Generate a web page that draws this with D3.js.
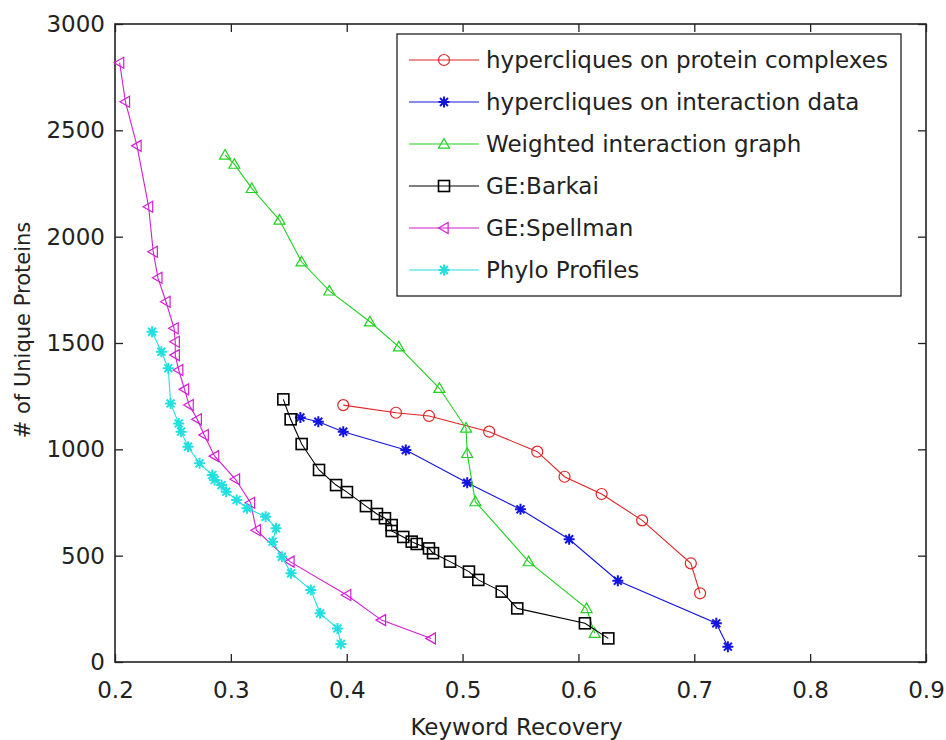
<!DOCTYPE html>
<html>
<head>
<meta charset="utf-8">
<script src="https://cdn.jsdelivr.net/npm/d3@7"></script>
<style>
body { margin: 0; background: #fff; }
svg { display: block; }
text { font-family: "DejaVu Sans", sans-serif; fill: #222; }
</style>
</head>
<body>
<svg id="chart" width="946" height="740"></svg>
<script>
const seriesNames = ["hypercliques on protein complexes", "hypercliques on interaction data", "Weighted interaction graph", "GE:Barkai", "GE:Spellman", "Phylo Profiles"];
const seriesColors = ["#e02424", "#1414e0", "#22d022", "#000000", "#d020d0", "#20e0e0"];
const seriesMarkers = ["circle", "asterisk", "triUp", "square", "triLeft", "asterisk"];

const redX = [0.397, 0.4425, 0.471, 0.523, 0.5645, 0.588, 0.620, 0.655, 0.697, 0.705];
const redY = [1208, 1172, 1157, 1083, 989, 871, 790, 666, 464, 323];

const blueX = [0.360, 0.3755, 0.397, 0.451, 0.504, 0.550, 0.592, 0.634, 0.719, 0.729];
const blueY = [1150, 1130, 1083, 997, 843, 718, 577, 382, 182, 72];

const greenX = [0.295, 0.303, 0.318, 0.342, 0.361, 0.385, 0.420, 0.445, 0.480, 0.503, 0.504, 0.511, 0.557, 0.607, 0.614];
const greenY = [2384, 2341, 2227, 2078, 1882, 1745, 1600, 1482, 1287, 1100, 981, 754, 472, 252, 135];

const barkaiX = [0.3453, 0.3516, 0.3611, 0.3761, 0.3908, 0.4002, 0.4166, 0.4261, 0.433, 0.4388, 0.4388, 0.4488, 0.4561, 0.4604, 0.471, 0.4745, 0.4892, 0.5055, 0.5136, 0.5338, 0.5472, 0.6056, 0.6258];
const barkaiY = [1235, 1141, 1025, 903, 832, 799, 733, 696, 676, 644, 616, 588, 566, 555, 534, 512, 472, 425, 386, 331, 252, 182, 111];

const spellmanX = [0.204, 0.209, 0.219, 0.229, 0.233, 0.237, 0.244, 0.251, 0.252, 0.252, 0.255, 0.260, 0.264, 0.271, 0.277, 0.286, 0.304, 0.317, 0.322, 0.351, 0.400, 0.430, 0.473];
const spellmanY = [2818, 2634, 2427, 2141, 1929, 1807, 1694, 1569, 1506, 1443, 1373, 1282, 1208, 1141, 1067, 968, 859, 749, 620, 472, 315, 197, 111];

const phyloX = [0.232, 0.240, 0.246, 0.248, 0.255, 0.257, 0.263, 0.273, 0.284, 0.286, 0.292, 0.296, 0.305, 0.314, 0.330, 0.339, 0.336, 0.344, 0.352, 0.369, 0.377, 0.392, 0.395];
const phyloY = [1553, 1459, 1381, 1216, 1122, 1083, 1012, 934, 879, 856, 832, 801, 762, 723, 683, 629, 566, 495, 417, 339, 229, 158, 85];

const xTicks = [0.2, 0.3, 0.4, 0.5, 0.6, 0.7, 0.8, 0.9];
const yTicks = [0, 500, 1000, 1500, 2000, 2500, 3000];
const xTitle = "Keyword Recovery";
const yTitle = "# of Unique Proteins";

const allX = [redX, blueX, greenX, barkaiX, spellmanX, phyloX];
const allY = [redY, blueY, greenY, barkaiY, spellmanY, phyloY];

const svg = d3.select("#chart");
const L = 115, R = 926, T = 24, B = 662;
const x = d3.scaleLinear().domain([0.2, 0.9]).range([L, R]);
const y = d3.scaleLinear().domain([0, 3000]).range([B, T]);

// axes
const tickLen = 8;
const gx = svg.append("g").attr("transform", `translate(0,${B})`)
  .call(d3.axisBottom(x).tickValues(xTicks).tickSizeInner(-tickLen).tickSizeOuter(0).tickPadding(20).tickFormat(d3.format(".1f")));
const gxt = svg.append("g").attr("transform", `translate(0,${T})`)
  .call(d3.axisTop(x).tickValues(xTicks).tickSizeInner(-tickLen).tickSizeOuter(0).tickFormat(""));
const gy = svg.append("g").attr("transform", `translate(${L},0)`)
  .call(d3.axisLeft(y).tickValues(yTicks).tickSizeInner(-tickLen).tickSizeOuter(0).tickPadding(10).tickFormat(d3.format("d")));
const gyr = svg.append("g").attr("transform", `translate(${R},0)`)
  .call(d3.axisRight(y).tickValues(yTicks).tickSizeInner(-tickLen).tickSizeOuter(0).tickFormat(""));
[gx, gxt, gy, gyr].forEach(g => {
  g.select(".domain").remove();
  g.selectAll(".tick line").attr("stroke", "#222").attr("stroke-width", 1.3);
  g.selectAll("text").attr("font-size", 23).attr("font-family", "DejaVu Sans").attr("fill", "#222");
});
gx.selectAll(".tick text").attr("dy", "0.71em").attr("y", 20);
svg.append("rect").attr("x", L).attr("y", T).attr("width", R - L).attr("height", B - T)
  .attr("fill", "none").attr("stroke", "#222").attr("stroke-width", 1.6);

// axis titles
svg.append("text").attr("x", (L + R) / 2 - 4).attr("y", 735).attr("text-anchor", "middle")
  .attr("font-size", 23).text(xTitle);
svg.append("text").attr("transform", `translate(30,330) rotate(-90)`).attr("text-anchor", "middle")
  .attr("font-size", 21).text(yTitle);

function drawMarker(g, type, cx, cy, color) {
  const s = 5.5;
  if (type === "circle") {
    g.append("circle").attr("cx", cx).attr("cy", cy).attr("r", s).attr("fill", "none").attr("stroke", color).attr("stroke-width", 1.2);
  } else if (type === "square") {
    g.append("rect").attr("x", cx - s).attr("y", cy - s).attr("width", 2 * s).attr("height", 2 * s).attr("fill", "none").attr("stroke", color).attr("stroke-width", 1.6);
  } else if (type === "triUp") {
    g.append("path").attr("d", `M${cx},${cy - s}L${cx + s},${cy + s * 0.75}L${cx - s},${cy + s * 0.75}Z`).attr("fill", "none").attr("stroke", color).attr("stroke-width", 1.2);
  } else if (type === "triLeft") {
    g.append("path").attr("d", `M${cx - s},${cy}L${cx + s * 0.75},${cy - s}L${cx + s * 0.75},${cy + s}Z`).attr("fill", "none").attr("stroke", color).attr("stroke-width", 1.2);
  } else if (type === "asterisk") {
    const d = s * 0.72;
    g.append("path").attr("d", `M${cx - s},${cy}L${cx + s},${cy}M${cx},${cy - s}L${cx},${cy + s}M${cx - d},${cy - d}L${cx + d},${cy + d}M${cx - d},${cy + d}L${cx + d},${cy - d}`)
      .attr("fill", "none").attr("stroke", color).attr("stroke-width", 2);
  }
}

const line = d3.line().x(d => x(d[0])).y(d => y(d[1]));
const plot = svg.append("g");
// draw in order
allX.forEach((xs, i) => {
  const pts = xs.map((v, j) => [v, allY[i][j]]);
  const g = plot.append("g");
  g.append("path").attr("d", line(pts)).attr("fill", "none").attr("stroke", seriesColors[i]).attr("stroke-width", 1.1);
  pts.forEach(p => drawMarker(g, seriesMarkers[i], x(p[0]), y(p[1]), seriesColors[i]));
});

// legend
const lg = svg.append("g");
lg.append("rect").attr("x", 397).attr("y", 34).attr("width", 504).attr("height", 262)
  .attr("fill", "#fff").attr("stroke", "#222").attr("stroke-width", 1.3);
const rowY = d3.scaleLinear().domain([0, 5]).range([60, 270]);
seriesNames.forEach((name, i) => {
  const yy = rowY(i);
  lg.append("line").attr("x1", 409).attr("x2", 479).attr("y1", yy).attr("y2", yy).attr("stroke", seriesColors[i]).attr("stroke-width", 1.1);
  drawMarker(lg, seriesMarkers[i], 444, yy, seriesColors[i]);
  lg.append("text").attr("x", 486).attr("y", yy).attr("dy", "0.36em").attr("font-size", 23).text(name);
});
</script>
</body>
</html>
